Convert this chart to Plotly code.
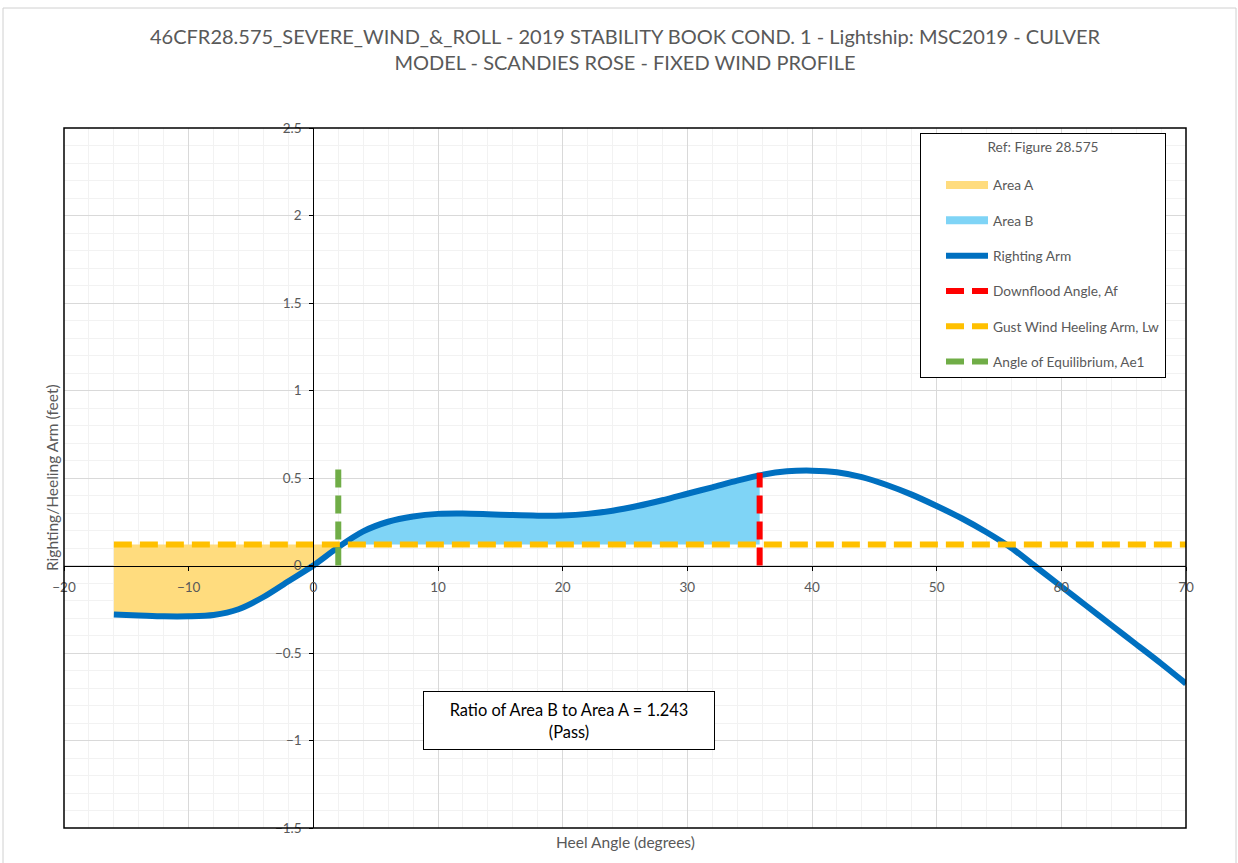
import numpy as np
import plotly.graph_objects as go

# ---------------- data ----------------
heel_angle = [-16, -14, -12, -10, -8, -6, -4, -2, 0, 2, 4, 6, 8, 10, 12, 14, 16, 18, 20,
              22, 24, 26, 28, 30, 32, 34, 36, 38, 40, 42, 44, 46, 48, 50, 52, 54, 56,
              58, 60, 62, 64, 66, 68, 70]
righting_arm = [-0.28, -0.285, -0.29, -0.29, -0.283, -0.25, -0.18, -0.09, 0.0, 0.105,
                0.195, 0.25, 0.28, 0.295, 0.297, 0.293, 0.288, 0.285, 0.286, 0.295,
                0.313, 0.34, 0.373, 0.41, 0.447, 0.485, 0.518, 0.538, 0.542, 0.533,
                0.505, 0.46, 0.405, 0.34, 0.27, 0.19, 0.10, -0.01, -0.12, -0.23,
                -0.34, -0.45, -0.56, -0.675]
heeling_arm_x = [-16, 70]
heeling_arm_lw = 0.12
equilibrium_angle = 2.0
equilibrium_line_y = [0.0, 0.56]
downflood_angle = 35.8
downflood_line_y = [0.0, 0.53]
ratio_text = "Ratio of Area B to Area A = 1.243<br>(Pass)"
title_text = ("46CFR28.575_SEVERE_WIND_&_ROLL - 2019 STABILITY BOOK COND. 1 - Lightship: MSC2019 - CULVER"
              "<br>MODEL - SCANDIES ROSE - FIXED WIND PROFILE")

# ---------------- styles ----------------
FONT = "Lato"
GREY_TXT = "#595959"
C_A = "#FFDC7E"
C_B = "#7FD4F6"
C_RA = "#0070C0"
C_DF = "#FF0000"
C_LW = "#FFC000"
C_EQ = "#70AD47"
DASH = "18px,8px"

ha = np.array(heel_angle, dtype=float)
ra = np.array(righting_arm, dtype=float)

# Area A: from first angle up to angle of equilibrium
mA = ha <= equilibrium_angle
xA = ha[mA]
yA = ra[mA]
# Area B: from angle of equilibrium to downflood angle
mB = (ha >= equilibrium_angle) & (ha < downflood_angle)
xB = np.append(ha[mB], downflood_angle)
yB = np.append(ra[mB], np.interp(downflood_angle, ha, ra))

fig = go.Figure()

# Area A fill
fig.add_trace(go.Scatter(x=xA, y=[heeling_arm_lw] * len(xA), mode="lines",
                         line=dict(width=0, color=C_A), showlegend=False, hoverinfo="skip"))
fig.add_trace(go.Scatter(x=xA, y=yA, mode="lines", fill="tonexty", fillcolor=C_A,
                         line=dict(width=0, color=C_A, shape="spline"),
                         showlegend=False, hoverinfo="skip"))
# Area B fill
fig.add_trace(go.Scatter(x=xB, y=[heeling_arm_lw] * len(xB), mode="lines",
                         line=dict(width=0, color=C_B), showlegend=False, hoverinfo="skip"))
fig.add_trace(go.Scatter(x=xB, y=yB, mode="lines", fill="tonexty", fillcolor=C_B,
                         line=dict(width=0, color=C_B, shape="spline"),
                         showlegend=False, hoverinfo="skip"))

# Legend entries for areas
fig.add_trace(go.Scatter(x=[None], y=[None], mode="lines", name="Area A",
                         line=dict(width=8, color=C_A), legendgroup="a", legendrank=1))
fig.add_trace(go.Scatter(x=[None], y=[None], mode="lines", name="Area B",
                         line=dict(width=8, color=C_B), legendgroup="b", legendrank=2))

# Righting arm curve
fig.add_trace(go.Scatter(x=heel_angle, y=righting_arm, mode="lines", name="Righting Arm",
                         line=dict(width=6, color=C_RA, shape="spline", smoothing=0.8),
                         legendgroup="c", legendrank=3))
# Gust wind heeling arm
fig.add_trace(go.Scatter(x=heeling_arm_x, y=[heeling_arm_lw] * len(heeling_arm_x), mode="lines",
                         name="Gust Wind Heeling Arm, Lw",
                         line=dict(width=6, color=C_LW, dash=DASH),
                         legendgroup="e", legendrank=5))
# Downflood angle
fig.add_trace(go.Scatter(x=[downflood_angle] * 2, y=downflood_line_y, mode="lines",
                         name="Downflood Angle, Af",
                         line=dict(width=6, color=C_DF, dash=DASH),
                         legendgroup="d", legendrank=4))
# Angle of equilibrium
fig.add_trace(go.Scatter(x=[equilibrium_angle] * 2, y=equilibrium_line_y, mode="lines",
                         name="Angle of Equilibrium, Ae1",
                         line=dict(width=6, color=C_EQ, dash=DASH),
                         legendgroup="f", legendrank=6))

tickfont = dict(family=FONT, size=13.5, color=GREY_TXT)

fig.update_layout(
    width=1238, height=863,
    margin=dict(l=64, r=52, t=128, b=35),
    paper_bgcolor="white", plot_bgcolor="white",
    font=dict(family=FONT, color=GREY_TXT),
    title=dict(text=title_text, x=0.5, xref="paper", xanchor="center",
               y=1 - 44 / 863, yref="container", yanchor="top",
               font=dict(family=FONT, size=20, color=GREY_TXT)),
    xaxis=dict(range=[-20, 70], dtick=10, tick0=0, showgrid=True, gridcolor="#D9D9D9",
               gridwidth=1, zeroline=False, showline=True, linecolor="black", linewidth=1,
               anchor="free", position=0.375, ticks="outside", ticklen=4, tickcolor="black",
               ticklabelstandoff=5, tickfont=tickfont,
               minor=dict(dtick=2, showgrid=True, gridcolor="#F2F2F2", ticks="")),
    yaxis=dict(range=[-1.5, 2.5], dtick=0.5, tick0=0, showgrid=True, gridcolor="#D9D9D9",
               gridwidth=1, zeroline=False, showline=True, linecolor="black", linewidth=1,
               anchor="free", position=20 / 90, ticks="outside", ticklen=4, tickcolor="black",
               ticklabelstandoff=5, tickfont=tickfont,
               minor=dict(dtick=0.1, showgrid=True, gridcolor="#F2F2F2", ticks="")),
    legend=dict(x=(920 - 64) / 1122, y=(828 - 133) / 700, xanchor="left", yanchor="top",
                bgcolor="white", bordercolor="black", borderwidth=1,
                font=dict(family=FONT, size=13.7, color=GREY_TXT),
                title=dict(text="Ref: Figure 28.575<br> ", side="top center",
                           font=dict(family=FONT, size=13.7, color=GREY_TXT)),
                traceorder="grouped", tracegroupgap=14.5, itemwidth=42, indentation=20),
    showlegend=True,
)

# plot-area frame and outer chart border
fig.add_shape(type="rect", xref="paper", yref="paper", x0=0, x1=1, y0=0, y1=1,
              line=dict(color="black", width=1.5), layer="above")
fig.add_shape(type="rect", xref="paper", yref="paper",
              x0=(3 - 64) / 1122, x1=(1236 - 64) / 1122,
              y0=(828 - 875) / 700, y1=(828 - 8) / 700,
              line=dict(color="#D0D0D0", width=1), layer="below")

# axis titles
fig.add_annotation(text="Heel Angle (degrees)", xref="paper", yref="paper",
                   x=0.5, y=(828 - 842) / 700, showarrow=False, yanchor="middle",
                   xanchor="center", font=dict(family=FONT, size=15.5, color=GREY_TXT))
fig.add_annotation(text="Righting/Heeling Arm (feet)", xref="paper", yref="paper",
                   x=(52 - 64) / 1122, y=0.5, showarrow=False, textangle=-90,
                   xanchor="center", yanchor="middle",
                   font=dict(family=FONT, size=15.5, color=GREY_TXT))
# ratio box
fig.add_annotation(text=ratio_text, xref="paper", yref="paper",
                   x=(569 - 64) / 1122, y=(828 - 720.5) / 700, showarrow=False,
                   xanchor="center", yanchor="middle",
                   width=288, height=55, bgcolor="white", bordercolor="black", borderwidth=1,
                   font=dict(family=FONT, size=16.4, color="black"), align="center")

fig.write_html("out.html", config={"displayModeBar": False},
               post_script="document.body.style.margin='0';")
